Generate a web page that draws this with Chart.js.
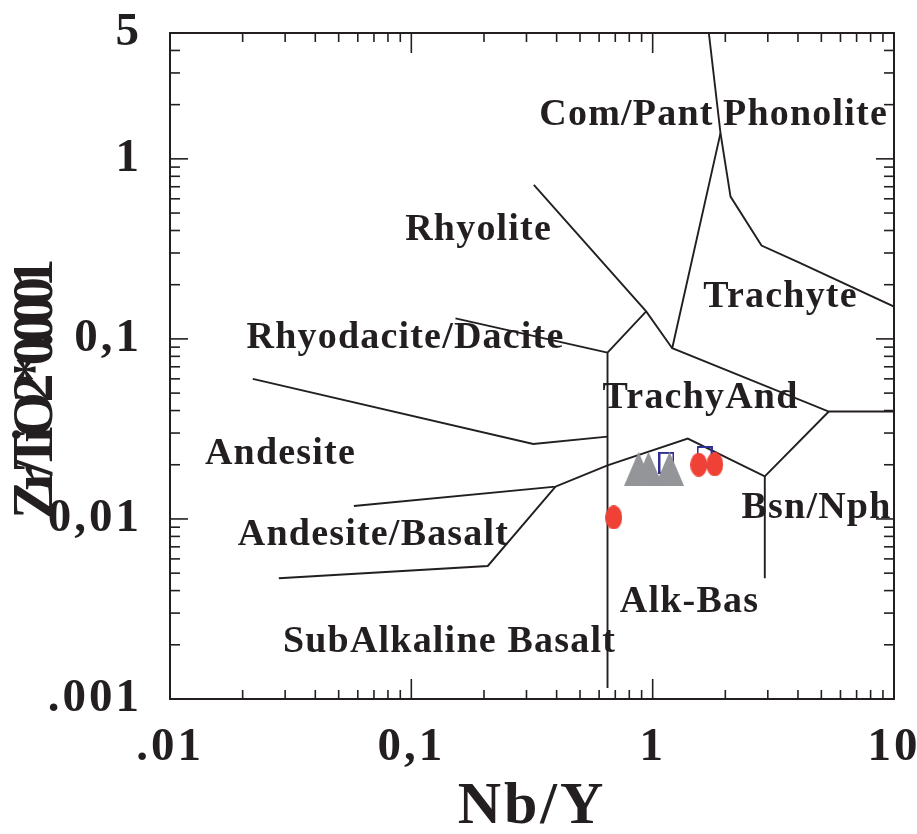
<!DOCTYPE html>
<html>
<head>
<meta charset="utf-8">
<script src="https://cdn.jsdelivr.net/npm/chart.js@4/dist/chart.umd.min.js"></script>
<style>
  html, body { margin: 0; padding: 0; background: #fff; }
  #wrap { width: 917px; height: 834px; position: relative; }
</style>
</head>
<body>
<div id="wrap"><canvas id="c"></canvas></div>
<script>
// Zr/TiO2 vs Nb/Y rock classification diagram (Winchester & Floyd fields)

// axis ticks
const xTickValues = [0.01, 0.1, 1, 10];
const xTickLabels = ['.01', '0,1', '1', '10'];
const yTickValues = [0.001, 0.01, 0.1, 1, 5];
const yTickLabels = ['.001', '0,01', '0,1', '1', '5'];

// field boundaries, vertices as [Nb/Y, Zr/TiO2*0.0001]
const lineComPantPhonolite = [[1.709, 5], [1.910, 1.389], [2.102, 0.617], [2.825, 0.330], [4.010, 0.2668], [10, 0.1511]];
const lineTrachyte = [[1.910, 1.389], [1.205, 0.0888], [5.37, 0.0395], [10, 0.0395]];
const lineRhyolite = [[0.3218, 0.7171], [0.940, 0.1422], [1.205, 0.0888]];
const lineDaciteEdge = [[0.940, 0.1422], [0.650, 0.0839], [0.650, 0.00115]];
const lineRhyodacite = [[0.1524, 0.130], [0.650, 0.0839]];
const lineAndesite = [[0.02203, 0.05994], [0.320, 0.0261], [0.650, 0.02866]];
const lineAndesiteBasalt = [[0.0578, 0.01181], [0.3958, 0.01511], [0.650, 0.01982], [1.398, 0.02793], [2.915, 0.01722], [5.37, 0.0395]];
const lineSubAlkaline = [[0.02824, 0.004685], [0.2074, 0.005481], [0.3958, 0.01511]];
const lineBasanite = [[2.915, 0.01722], [2.915, 0.004685]];

// field names and their anchor (centre, baseline)
const fieldNames = ['Com/Pant', 'Phonolite', 'Rhyolite', 'Trachyte', 'Rhyodacite/Dacite', 'TrachyAnd',
                    'Andesite', 'Bsn/Nph', 'Andesite/Basalt', 'Alk-Bas', 'SubAlkaline Basalt'];
const fieldNb = [0.779, 4.30, 0.190, 3.386, 0.0946, 1.579, 0.0287, 4.775, 0.0697, 1.421, 0.1439];
const fieldZr = [1.545, 1.545, 0.3548, 0.1506, 0.0891, 0.04137, 0.0202, 0.01013, 0.00717, 0.003046, 0.001813];

// samples
const redNb = [1.553, 1.809, 0.690];
const redZr = [0.0200, 0.0201, 0.0102];
const greyNb = [0.874, 0.961, 1.174];
const greyZr = [0.0190, 0.0190, 0.0190];
const blueNb = [1.141, 1.640];
const blueZr = [0.0205, 0.0221];

const INK = '#231f20';
const SERIF = '"Liberation Serif", "Times New Roman", serif';

function marker(w, h, paint) {
  const c = document.createElement('canvas');
  c.width = w; c.height = h;
  paint(c.getContext('2d'), w, h);
  return c;
}
const redEllipse = marker(17, 24, (g, w, h) => {
  g.fillStyle = '#ef4136';
  g.beginPath(); g.ellipse(w / 2, h / 2, w / 2, h / 2, 0, 0, Math.PI * 2); g.fill();
});
const greyTriangle = marker(29, 34, (g, w, h) => {
  g.fillStyle = '#939598';
  g.beginPath(); g.moveTo(w / 2, 0); g.lineTo(w, h); g.lineTo(0, h); g.closePath(); g.fill();
});
const blueBox = marker(16, 22, (g, w, h) => {
  g.strokeStyle = '#2e3192'; g.lineWidth = 2;
  g.strokeRect(1, 1, w - 2, h - 2);
});

const zip = (xs, ys) => xs.map((v, i) => ({ x: v, y: ys[i] }));
const pairs = arr => arr.map(p => ({ x: p[0], y: p[1] }));

const boundaryDatasets = [lineComPantPhonolite, lineTrachyte, lineRhyolite, lineDaciteEdge, lineRhyodacite,
  lineAndesite, lineAndesiteBasalt, lineSubAlkaline, lineBasanite].map(l => ({
  data: pairs(l), showLine: true, pointRadius: 0, borderColor: INK, borderWidth: 1.9, fill: false
}));

// slightly spaced lettering for the axis numbers and title
const spacingPlugin = {
  id: 'axisSpacing',
  beforeDraw(chart) { chart.ctx.letterSpacing = '3px'; }
};

const fieldLabelPlugin = {
  id: 'fieldLabels',
  beforeDatasetsDraw(chart) {
    const { ctx, scales: { x, y } } = chart;
    ctx.save();
    ctx.fillStyle = INK;
    ctx.font = 'bold 38px ' + SERIF;
    ctx.letterSpacing = '1.2px';
    ctx.textAlign = 'center';
    ctx.textBaseline = 'alphabetic';
    fieldNames.forEach((t, i) => ctx.fillText(t, x.getPixelForValue(fieldNb[i]), y.getPixelForValue(fieldZr[i])));
    ctx.restore();
  }
};

const frameTickPlugin = {
  id: 'frameTicks',
  afterDraw(chart) {
    const { ctx, chartArea: a, scales: { x, y } } = chart;
    ctx.save();
    ctx.strokeStyle = INK;
    ctx.lineWidth = 2;
    ctx.strokeRect(a.left, a.top, a.right - a.left, a.bottom - a.top);
    ctx.lineWidth = 1.6;
    const seg = (x1, y1, x2, y2) => { ctx.beginPath(); ctx.moveTo(x1, y1); ctx.lineTo(x2, y2); ctx.stroke(); };
    for (let d = -2; d <= 0; d++) {
      for (let k = 1; k <= 9; k++) {
        const px = x.getPixelForValue(k * Math.pow(10, d));
        const len = k === 1 ? 20 : 9;
        seg(px, a.bottom, px, a.bottom - len);
        seg(px, a.top, px, a.top + len);
      }
    }
    for (let d = -3; d <= 0; d++) {
      for (let k = 1; k <= 9; k++) {
        const v = k * Math.pow(10, d);
        if (v > 5) break;
        const py = y.getPixelForValue(v);
        const len = k === 1 ? 18 : 10;
        seg(a.left, py, a.left + len, py);
        seg(a.right, py, a.right - len, py);
      }
    }
    // vertical axis title
    ctx.translate(37, 394);
    ctx.rotate(-Math.PI / 2);
    ctx.fillStyle = INK;
    ctx.font = 'bold 58px ' + SERIF;
    ctx.letterSpacing = '-10.5px';
    ctx.textAlign = 'center';
    ctx.textBaseline = 'middle';
    ctx.fillText('Zr/TiO2*0.0001', 0, 0);
    ctx.restore();
  }
};

new Chart(document.getElementById('c'), {
  type: 'scatter',
  data: {
    datasets: [
      { data: zip(redNb, redZr), pointStyle: redEllipse, pointRadius: 12 },
      { data: zip(greyNb, greyZr), pointStyle: greyTriangle, pointRadius: 17 },
      { data: zip(blueNb, blueZr), pointStyle: blueBox, pointRadius: 11 },
      ...boundaryDatasets
    ]
  },
  options: {
    responsive: true,
    maintainAspectRatio: false,
    animation: false,
    events: [],
    layout: { padding: { top: 33, right: 23, left: 0, bottom: 0 } },
    plugins: { legend: { display: false }, tooltip: { enabled: false } },
    scales: {
      x: {
        type: 'logarithmic', min: 0.01, max: 10,
        grid: { display: false }, border: { display: false },
        afterBuildTicks: s => { s.ticks = xTickValues.map(v => ({ value: v, major: true })); },
        afterFit: s => { s.height = 135; s.paddingLeft = 0; s.paddingRight = 0; },
        ticks: {
          autoSkip: false, maxRotation: 0, padding: 13, color: INK,
          font: { family: SERIF, size: 47, weight: 'bold' },
          callback: (v, i) => xTickLabels[i]
        },
        title: {
          display: true, text: 'Nb/Y', color: INK,
          font: { family: SERIF, size: 60, weight: 'bold', lineHeight: 1 },
          padding: { top: 0, bottom: -3 }
        }
      },
      y: {
        type: 'logarithmic', min: 0.001, max: 5,
        grid: { display: false }, border: { display: false },
        afterBuildTicks: s => { s.ticks = yTickValues.map(v => ({ value: v, major: true })); },
        afterFit: s => { s.width = 170; s.paddingTop = 0; s.paddingBottom = 0; },
        ticks: {
          autoSkip: false, padding: 20, color: INK,
          font: { family: SERIF, size: 47, weight: 'bold' },
          callback: (v, i) => yTickLabels[i]
        }
      }
    }
  },
  plugins: [spacingPlugin, fieldLabelPlugin, frameTickPlugin]
});
</script>
</body>
</html>
